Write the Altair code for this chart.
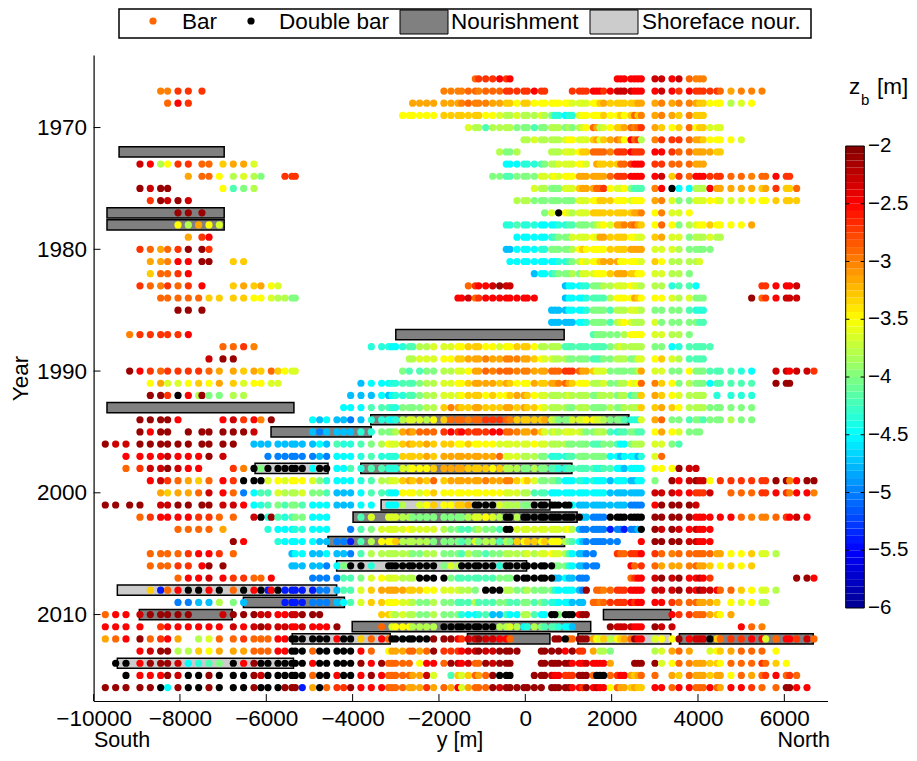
import altair as alt
import pandas as pd

YEAR_START = 1966
# transect positions along the coast [m], in groups matching the groups of the row strings
TRANSECTS = [
    [-9729, -9489, -9250, -9165, -8926, -8686, -8447, -8285, -8045, -7806],
    [-7567, -7490, -7327, -7088, -7003, -6764, -6525, -6285, -6123, -5961],
    [-5884, -5729, -5567, -5405, -5328, -5166, -4926, -4764, -4602, -4363],
    [-4208, -4046, -3807, -3567, -3328, -3166, -3089, -3004, -2842, -2687],
    [-2610, -2448, -2286, -2124, -1885, -1722, -1560, -1475, -1320, -1158],
    [-1081, -918, -756, -594, -440, -355, -193, -31, 47, 209],
    [371, 448, 610, 687, 772, 927, 1012, 1089, 1251, 1328],
    [1413, 1575, 1653, 1730, 1815, 1969, 2131, 2209, 2293, 2448],
    [2533, 2610, 2687, 3004, 3158, 3398, 3560, 3799, 3954, 4038],
    [4123, 4278, 4440, 4517, 4764, 5004, 5243, 5482, 5567, 5807],
    [6046, 6123, 6285, 6525, 6687],
]
# bar depth classes read from the colours; '#' is a double bar, '.' no bar, '-' an empty group
Z_CODES = {"m": -2.1, "r": -2.3, "R": -2.5, "o": -2.7, "O": -2.9, "P": -3.0, "A": -3.15,
           "y": -3.3, "Y": -3.5, "l": -3.65, "g": -3.8, "G": -4.0, "t": -4.2, "c": -4.35,
           "C": -4.5, "b": -4.75, "B": -5.0, "n": -5.4}
ROWS = [
    "- - - - .........O oooRoR.... - ......RRRR RRRrrRrOPP P",
    "......PPoo .o........ - - ....PPPPOO POOOoooooR oo.....ooo oRRRoRrrrr RRRRrRoRoo oooOAPPP..",
    ".......ORo - - - AAAAAAAPOP PPAAyyYyyY YYYYYYYlll lYYyAyyyyy yAAAPAPPAy yYYYglY...",
    "- - - ........YY YYYYyyyyyy yYYlgglggg lgGccCcclY YYYYyYYyYy OyPAPAyPyy y",
    "- - - - ........lg gtggggGGGt GGgggGgGgl YOAglYyyAO POoAyYyOYy ylll......",
    "- - - - - .......ggl ggggglYYll lyAlyAPAYR OogPoooOAA yYYYYl....",
    "- - - - - ...gGGg... ..ggglllYy yOOOOPoooR oooRRoOOAA AAyy......",
    "....rRgYoo .OO.yAAl.. - - - ....CCCccc tGggllllYY l.AyyyyOOo RRRooOOOAA A",
    ".........A .OOY.glgG. ..ooo..... - - ..GGttGGGG lllYlYYYAA AAAAAOoooR RRRRryoORR RoooOOPOOR oo...",
    "....mrmm.. ....YtGg.. - - - .........l ggGGGlllyA AAOOoYllYG tttPR#CCgg gRAAAAAyAo yyO..",
    ".....omrmr - - - - ......gggG GGGGGGGGll lYYyyyYYYl YYYAPlGGll lYYlllYYYy yyy..",
    "........mm .m........ - - - - .Gl.#Ylgll lyyyyyyyyy AAPYPllY..",
    "........Yg A.Yl...... - - - ....cctccc CCCCccttGG GGglYlAAPP OAyYOYGglY YyYYYYA...",
    ".........A .oR....... - - - ......CCCC CCctGGGlll lYlAAyyyyY YllyAllGgg glgg......",
    "....oOAOom .mo....... - - - ....bbCCCC ccGGGGGgYy YYYYYyyyyA AAAlllgGGG GG........",
    ".....AAPRR .mm..yy... - - - .....CCCCC CCCCcctGgY lYYyAAAYYY YYlyYggggl",
    ".....yOOoR - - - - .........b CCctGGGgGl llYYYyAAAy yYYllggG..",
    "....oOPoOo .R...yAyA. Yl........ - ........Oo RRrmrr.... .....bCCCc cGGGgglllY llgggcttC. .......ooR RRr..",
    "......OOOO O.yy.yyYY. lggGG..... - ......RRrO oRRRRRRRRR .....bCCCC cttttgYYYY AyYYYlglGG G.....mOoR rrr..",
    "........mm .m........ - - - - ..bbbbCCCC cGGGGtgggl llgGGGGtcc c",
    "- - - - - - ..bbbbbbCC cGGGGtglYl ggglGGGGGt t",
    "...PoooooR - - - - - - .tGGGGG.gY YYYllggG..",
    "- ....OOoP.. - ...cccCCct tgglllYYyy yYYlYYyyyY gggggttttt tttttGglgg gggGGCcttt tt",
    "- ..r.mm.... - .........g glllYYyyAA APAAPPPAAy YllgggGGGG GtttGGgggG GllYylgttt t",
    "...mRoOooo o.OA.AyAy. OyYll..... ........Gt .tGGggllYA AOPOOOPPPA AAOOOoooOA AylllGGGGG GgAllGGYGG GttttcC..r rRrro",
    ".....YAllY y.YA.ylYY. ll........ ..bCCCcctt tGggllYYyA AAAyAyYYYA yyAAPOAyYY YggglGGggY lYOPyYGgGG GCttttt..m mm...",
    ".....mmo#R gmGG.gg... - .bbbCbCcct tGgglllYyy yYyYYyAAyY llgggglggg gGGgggGggt GGyAyYlggg g.c.ccc...",
    "- - - CCCtttccGG GGggyPAyyA AyyyAAyAyy YlggggGGgg gGGGGgGGgg ggyyAyYggg gGGGGGG...",
    "....mmmmR. ....RroRP. m.....CbCb bBbcccCcgl llgYyOOOPO OoooOPyyyy yAlgGGGlll YYllgGGGtc cclAOGGtGG tGGGgGG...",
    "....mRmm.m .mm.mmmr.. ......bBbb bbccGGGgAP AOOOoRoRoo ooRROOPAAP ylglgllllg GGgggtcttG GttYAYlGGG",
    "mrr.mmmmmm .mm.mm.bbb .bbbbbbCbt cctGgYllyA yyAyyyYYyY YYYllllllY llggggGGGG GtttGGtCCG gggllGt...",
    "..R.RRRrRR R.m.r....B .BBBBBBbBC CCctccccyy yyAyAAAAAA AAAOlllggg GGccccttGG GGGGGCCbCC CbclO.....",
    "..O.orrmrR R....oP#G# .#####C##C Ctcttcccll YYYyAAAAyy yyYygggGGg GGttcctttt ttccttCCbC CCCYYYmrr.",
    ".....RroOA y.O.Ro###l .YlYYYlGcC CCctggllyA yAyOyAAAAA APAAPPyYyl GGGGtCCCcc CcCCCbCCCb bCCG.mRrmr rY.oooooom mPRmm",
    "......AyAA O.r.ROBCtt .lggglGGtb bbCttcCCYY YlYyYYYYYY YYYYlllggt ttCCCCCCCC CCCCCbbbbb bbbrrrRRoo or..OOOooR oPRRP",
    "mm.mm.rrmm .mm.rrRCct .GtGGtCCCb bbCC.CCCg. .lYyYYyyA# ###lgggGG# #######Cbb bbbbbbbbbB BBBRmmmmr.",
    "....OoRRRR o.oO.O.r#c mtctGGCCC. ..tl.lllgg GGGGGGGGgl lYlg##g### #########b bBBBB##### ###mmmmmRR RR.RROPPPO oRrR.",
    "........OO O.O.A....c .CCCccCCC. .BtGlllllY llllgGGttG gGGt##llll llllllYgbB BBBBBnBBnB Bb#mrmrRrR RR",
    "- .....mR... .cCCCCCbbB BntgYYYygg gggGGGGtGl GggtgGyYyy YyYYYgGtCb BBBBBBB... ..RmmmmrrR RR",
    ".....OOOOo R.Ro.O.... ...bCCbbCb bBtggggggg GGggGGGtgG GtGGgggglg llYllgtCbb BB....oOOo ooRoOPOOOO OOAAYYyllg",
    ".....OOOoo .Rm.m..... ...bbbbbBC G##c.##### ####Glg### ###c###### ###GGGcCbb BBB......R O.oOAAAPOA Ay.YyYy...",
    "........OR R.r.RooOO. R.....BBBB ttGlYlllgg g####Gtttt tttGGG#### ###bbCbbBB B........O oRRrmrmRRr Ro........ ..mmR",
    ".....ynOR# #.R#.O#R#n R#nnnnnBBb ttlyAAAAAy yyYYlllggG .###ggGGgG GGGcCCCCbB m.OOPOoooR RRRrrrmrRm rrROOyYllg",
    "........BB b.bg.Gb... ..nnnnBBBb CtlyyYYYll gGGgGGtttg tttGGttGGt GtccCCCbbb .OOPOooooR oRRRRoOOOA AAy.YlYgg.",
    "ORR.rmmmmm ....rmmmrr .RRrrmmm.. ....yylglg gGGgGGGcCC ctbbtCCggt CC##G###Rm m......... .....RooOO OAyYA.....",
    "RRR.R.oRRR R.RR.rRrmr .rrRRrRRRm ....O.lYYY gggg###### ###gglgCcg GtttcCCb.. .....mrrrr RRRmrr.... .....ROP..",
    "AOR.mOoRA. g.lO.OoOOO .RR######R ##yORO#### ###mmmRorr mrrRRO.... ...mm#OOmm mAYlygYyAO mRRlYYmRrr r#yOooRRlO RRorO",
    "....Rrmmgg y.YA.AAOOO .RR###O### ##RO.YAAAO OAOmoooRrr mrrmmmm... mmm.mR.moo .A.ggG.... ...glAOA.. .lYyAOOO.Y",
    ".##.RmmmrC c.tG.#Rm## .#####R### ##mRmOOOOO .YRROmrRrO Omrmmm.... mmmmmmmRRR rRRRRA.... mmmmlYOPAA AyyYOOOoOy Y",
    "..#.RRRmr# #.m#.##mr# .#####O##R ##RmROOOOO AArl.tylyO AOm###...m mmrRRooomm mO###OoRRA yAOO.AyOAA AyAAYOAOoR OoO..",
    "mmm.mm#Cm# #.m#.##m## .#mmmnA#Oo omRRROOOOA AAoAOARlAO OOmrmmmmmm m.mmmmmRRo mRrRRYOAAy AyyRRORROO OROARRoO.O mmRR.",
]
# nourishments: year, south end, north end, kind
NOUR_YEAR = [1972, 1977, 1978, 1987, 1993, 1994, 1995, 1998, 1998, 2001, 2002, 2004, 2006, 2008,
             2009, 2010, 2010, 2011, 2012, 2012, 2012, 2012, 2014]
NOUR_Y0 = [-9410, -9690, -9690, -3000, -9690, -3580, -5890, -6260, -3810, -3340, -3990, -4570, -4370,
           -9450, -6530, -8940, 1810, -4010, -5400, -1340, 1220, 3570, -9450]
NOUR_Y1 = [-6975, -6975, -6975, 900, -5360, 2400, -3570, -4570, 1080, 570, 1200, 910, 30,
           -4370, -4190, -6790, 3370, 1515, -3130, 570, 3370, 6670, -5370]
NOUR_KIND = ["N", "N", "N", "N", "N", "N", "N", "S", "N", "S", "N", "N", "S",
             "S", "N", "N", "N", "N", "S", "N", "S", "N", "S"]
X_TICKS = [-10000, -8000, -6000, -4000, -2000, 0, 2000, 4000, 6000]
Y_TICKS = [1970, 1980, 1990, 2000, 2010]
CB_TICKS = [-2, -2.5, -3, -3.5, -4, -4.5, -5, -5.5, -6]
CB_LABELS = ["−2", "−2.5", "−3", "−3.5", "−4", "−4.5", "−5", "−5.5", "−6"]

FONT = "Liberation Sans"
FS = 22.5
DOT = 52
XDOM = [-10000, 7000]
YDOM = [2017.1, 1964.04]
W, H = 733.9, 646
OX, OY = 93.6, 55  # plot origin on the page

recs = []
for i, row in enumerate(ROWS):
    for group, cols in zip(row.split(), TRANSECTS):
        if group == "-":
            continue
        for ch, col in zip(group, cols):
            if ch != ".":
                recs.append({"year": YEAR_START + i, "y": col, "ch": ch, "z": Z_CODES.get(ch)})
bars = pd.DataFrame(recs)
single = bars[bars.ch != "#"]
double = bars[bars.ch == "#"]

nour = pd.DataFrame({"year": NOUR_YEAR, "y0": NOUR_Y0, "y1": NOUR_Y1, "kind": NOUR_KIND})
nour["t0"] = nour.year - 0.42
nour["t1"] = nour.year + 0.42

xs = alt.Scale(domain=XDOM, nice=False, zero=False)
ys = alt.Scale(domain=YDOM, nice=False, zero=False)
jet = alt.Scale(domain=[-6, -5.5, -4.5, -3.5, -2.5, -2],
                range=["#00008f", "#0000ff", "#00ffff", "#ffff00", "#ff0000", "#800000"],
                interpolate="rgb")

xaxis = alt.Axis(values=X_TICKS, format="d", ticks=False, grid=False, labelFont=FONT, labelFontSize=FS,
                 labelColor="black", labelPadding=6, title=None,
                 domainColor="black", domainWidth=1.2, labelFlush=False, labelOverlap=False)
yaxis = alt.Axis(values=Y_TICKS, format="d", ticks=False, grid=False, labelFont=FONT, labelFontSize=FS,
                 labelColor="black", labelPadding=7, title="Year", titleFont=FONT, titleFontSize=FS,
                 titleFontWeight="normal", titleColor="black", titlePadding=4,
                 domainColor="black", domainWidth=1.2, labelOverlap=False)

nour_layer = alt.Chart(nour).mark_rect(stroke="black", strokeWidth=1.5).encode(
    x=alt.X("y0:Q", scale=xs, axis=xaxis),
    x2="y1:Q",
    y=alt.Y("t0:Q", scale=ys, axis=yaxis),
    y2="t1:Q",
    color=alt.Color("kind:N", scale=alt.Scale(domain=["N", "S"], range=["#808080", "#cccccc"]), legend=None),
)
single_layer = alt.Chart(single).mark_circle(size=DOT, opacity=1).encode(
    x=alt.X("y:Q", scale=xs, axis=None),
    y=alt.Y("year:Q", scale=ys, axis=None),
    color=alt.Color("z:Q", scale=jet, legend=None),
)
double_layer = alt.Chart(double).mark_circle(size=DOT, opacity=1, color="black").encode(
    x=alt.X("y:Q", scale=xs, axis=None),
    y=alt.Y("year:Q", scale=ys, axis=None),
)
xt = pd.DataFrame({"v": X_TICKS})
xt["a"], xt["b"] = YDOM[0], YDOM[0] - 0.57
xtick_layer = alt.Chart(xt).mark_rule(color="black", strokeWidth=1).encode(
    x=alt.X("v:Q", scale=xs, axis=None),
    y=alt.Y("a:Q", scale=ys, axis=None),
    y2="b:Q",
)
yt = pd.DataFrame({"v": Y_TICKS})
yt["a"], yt["b"] = XDOM[0], XDOM[0] + 160
ytick_layer = alt.Chart(yt).mark_rule(color="black", strokeWidth=1).encode(
    y=alt.Y("v:Q", scale=ys, axis=None),
    x=alt.X("a:Q", scale=xs, axis=None),
    x2="b:Q",
)

# colour bar on its own scales
cbx = alt.Scale(domain=[0, 1], range=[845.7 - OX, 864.3 - OX], nice=False, zero=False)
cby = alt.Scale(domain=[-2, -6], range=[146 - OY, 608 - OY], nice=False, zero=False)
steps = [-6 + k / 16 for k in range(64)]
cb = pd.DataFrame({"z0": steps})
cb["z1"] = cb.z0 + 1 / 16
cb["m"] = cb.z0 + 1 / 32
cb["a"], cb["b"] = 0, 1
cb_cells = alt.Chart(cb).mark_rect().encode(
    x=alt.X("a:Q", scale=cbx, axis=None), x2="b:Q",
    y=alt.Y("z0:Q", scale=cby, axis=None), y2="z1:Q",
    color=alt.Color("m:Q", scale=jet, legend=None),
)
cb_frame = alt.Chart(pd.DataFrame({"a": [0], "b": [1], "z0": [-6], "z1": [-2]})).mark_rect(
    fillOpacity=0, stroke="black", strokeWidth=1).encode(
    x=alt.X("a:Q", scale=cbx, axis=None), x2="b:Q",
    y=alt.Y("z0:Q", scale=cby, axis=None), y2="z1:Q",
)
tk = pd.DataFrame({"z": CB_TICKS[1:-1]})
tk["a0"], tk["a1"], tk["b0"], tk["b1"] = 0, 0.2, 0.8, 1
cb_t1 = alt.Chart(tk).mark_rule(color="black", strokeWidth=1).encode(
    x=alt.X("a0:Q", scale=cbx, axis=None), x2="a1:Q", y=alt.Y("z:Q", scale=cby, axis=None))
cb_t2 = alt.Chart(tk).mark_rule(color="black", strokeWidth=1).encode(
    x=alt.X("b0:Q", scale=cbx, axis=None), x2="b1:Q", y=alt.Y("z:Q", scale=cby, axis=None))
cb_text = alt.Chart(pd.DataFrame({"z": CB_TICKS, "t": CB_LABELS})).mark_text(
    font=FONT, fontSize=20.5, align="left", baseline="middle", color="black").encode(
    x=alt.value(868 - OX), y=alt.Y("z:Q", scale=cby, axis=None), text="t:N")


def label(text, px, py, size=FS, align="left", baseline="alphabetic"):
    return alt.Chart(pd.DataFrame({"t": [text]})).mark_text(
        font=FONT, fontSize=size, align=align, baseline=baseline, color="black").encode(
        text="t:N", x=alt.value(px - OX), y=alt.value(py - OY))


def box(x0, x1, y0, y1, fill, width=1.5):
    return alt.Chart(pd.DataFrame({"k": [1]})).mark_rect(fill=fill, stroke="black", strokeWidth=width).encode(
        x=alt.value(x0 - OX), x2=alt.value(x1 - OX), y=alt.value(y0 - OY), y2=alt.value(y1 - OY))


def dot(px, py, color):
    return alt.Chart(pd.DataFrame({"k": [1]})).mark_circle(size=DOT, opacity=1, color=color).encode(
        x=alt.value(px - OX), y=alt.value(py - OY))


extras = [
    box(119, 811, 9, 38, "white"),
    dot(153, 21, "#ff6600"),
    label("Bar", 182, 29),
    dot(251, 21, "black"),
    label("Double bar", 279, 29),
    box(400, 448, 10, 34, "#808080", 1),
    label("Nourishment", 451, 29),
    box(590, 638, 10, 34, "#cccccc", 1),
    label("Shoreface nour.", 642, 29),
    label("South", 94, 747, size=21.5),
    label("y [m]", 460, 747, size=21.5, align="center"),
    label("North", 830, 747, size=21.5, align="right"),
    label("z", 849, 94),
    label("b", 861, 105, size=15),
    label("[m]", 877, 94),
]

chart = alt.layer(
    nour_layer, single_layer, double_layer, xtick_layer, ytick_layer,
    cb_cells, cb_frame, cb_t1, cb_t2, cb_text, *extras,
).resolve_scale(x="independent", y="independent", color="independent").properties(
    width=W, height=H,
    padding={"left": OX - 8, "top": OY - 8, "right": 81, "bottom": 52},
    autosize=alt.AutoSizeParams(type="none"),
).configure_view(stroke=None).configure_axis(grid=False)

chart.save("out.html", embed_options={"renderer": "svg", "actions": False})
